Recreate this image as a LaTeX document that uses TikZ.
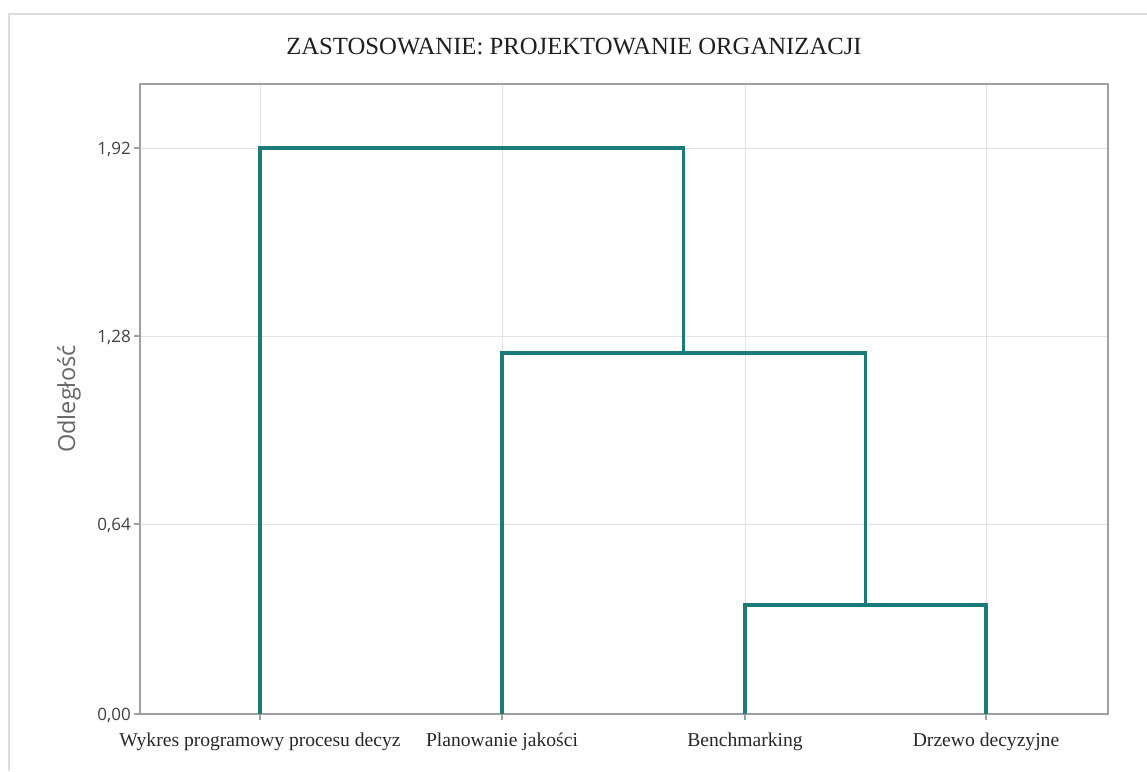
\documentclass[tikz,border=0pt]{standalone}
\usepackage{fontspec}
\setmainfont{Liberation Serif}
\newfontfamily\ticksans{Open Sans}
\definecolor{teal1}{HTML}{1B7A7A}
\definecolor{axisgray}{HTML}{A0A0A0}
\definecolor{gridgray}{HTML}{E3E3E3}
\definecolor{framegray}{HTML}{DDDDDD}
\definecolor{ticktext}{HTML}{404040}
\tikzset{
  branch/.style={draw=teal1, line width=3.2pt, line cap=butt, line join=miter},
  gridline/.style={draw=gridgray, line width=1pt},
  axisline/.style={draw=axisgray, line width=1.8pt},
  tickmark/.style={draw=axisgray, line width=1.2pt},
  ticklab/.style={anchor=east, font=\ticksans\fontsize{17}{17}\selectfont, text=ticktext, inner sep=0pt},
  leaflab/.style={anchor=base, font=\fontsize{19.6}{19.6}\selectfont, text=black!85, inner sep=0pt},
}
\begin{document}
\begin{tikzpicture}[x=1pt,y=-1pt]
\useasboundingbox (0,0) rectangle (1147,771);
% outer frame
\draw[framegray, line width=2pt] (9,771) -- (9,14) -- (1147,14);
% title
\node[font=\fontsize{24.7}{24.7}\selectfont, text=black!88, inner sep=0pt] (title) at (574,47) {ZASTOSOWANIE: PROJEKTOWANIE ORGANIZACJI};
% grid
\foreach \x in {260,502,745,986} { \draw[gridline] (\x,84) -- (\x,714); }
\foreach \y in {148,336,524} { \draw[gridline] (140,\y) -- (1108,\y); }
% plot frame
\draw[axisline] (140,84) rectangle (1108,714);
% y ticks
\foreach \y/\t in {148/{1,92},336/{1,28},524/{0,64},714/{0,00}} {
  \draw[tickmark] (134,\y) -- (140,\y);
  \node[ticklab] at (131,\y+1.5) {\t};
}
% x ticks
\foreach \x in {260,502,745,986} { \draw[tickmark] (\x,714) -- (\x,720); }
% axis title
\node[rotate=90, font=\ticksans\fontsize{23.5}{23.5}\selectfont, text=black!60, inner sep=0pt] (ytitle) at (69,399) {Odległość};
% leaves
\coordinate (l1) at (260,714);
\coordinate (l2) at (502,714);
\coordinate (l3) at (745,714);
\coordinate (l4) at (986,714);
% merges
\coordinate (m1) at (865.5,605);
\coordinate (m2) at (683.5,353);
\coordinate (m3) at (471.75,148);
\draw[branch] (l3) |- (m1) -| (l4);
\draw[branch] (l2) |- (m2) -| (m1);
\draw[branch] (l1) |- (m3) -| (m2);
% leaf labels
\node[leaflab] (t1) at (260,746) {Wykres programowy procesu decyz};
\node[leaflab] (t2) at (502,746) {Planowanie jakości};
\node[leaflab] (t3) at (745,746) {Benchmarking};
\node[leaflab] (t4) at (986,746) {Drzewo decyzyjne};
\end{tikzpicture}
\end{document}
